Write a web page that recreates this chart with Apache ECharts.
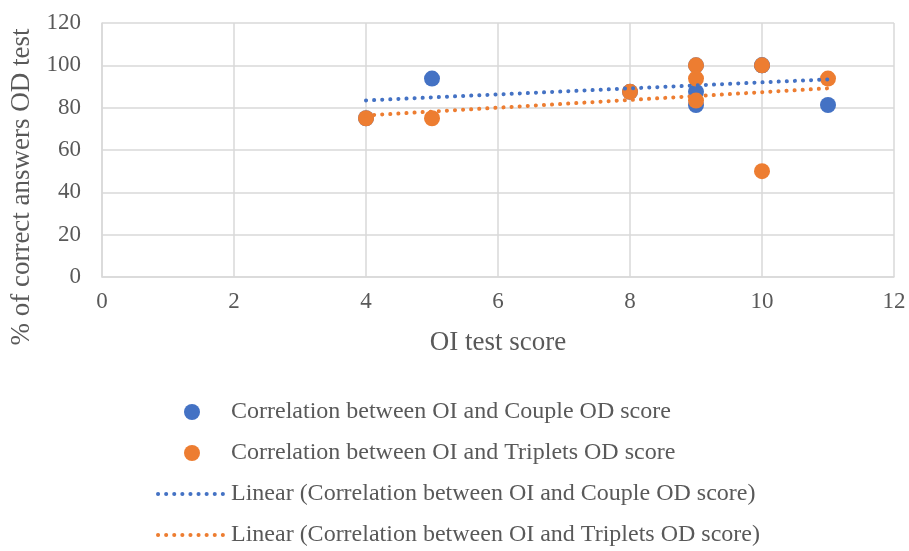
<!DOCTYPE html>
<html>
<head>
<meta charset="utf-8">
<script src="https://cdn.jsdelivr.net/npm/echarts@6/dist/echarts.min.js"></script>
<style>html,body{margin:0;padding:0;background:#fff}#c{width:909px;height:551px}</style>
</head>
<body>
<div id="c"></div>
<script>
var coupleX = [4, 5, 8, 9, 9, 9, 10, 10, 11];
var coupleY = [75, 93.75, 87.5, 87.5, 81.25, 100, 100, 100, 81.25];
var tripletsX = [4, 5, 8, 9, 9, 9, 10, 10, 11];
var tripletsY = [75, 75, 87.5, 100, 93.75, 83.33, 100, 50, 93.75];
var seriesNames = [
  'Correlation between OI and Couple OD score',
  'Correlation between OI and Triplets OD score',
  'Linear (Correlation between OI and Couple OD score)',
  'Linear (Correlation between OI and Triplets OD score)'
];
var xTicks = [0, 2, 4, 6, 8, 10, 12];
var yTicks = [0, 20, 40, 60, 80, 100, 120];

function pairs(xs, ys) { return xs.map(function (x, i) { return [x, ys[i]]; }); }
function trend(xs, ys) {
  var n = xs.length, mx = 0, my = 0;
  for (var i = 0; i < n; i++) { mx += xs[i]; my += ys[i]; }
  mx /= n; my /= n;
  var sxy = 0, sxx = 0;
  for (var j = 0; j < n; j++) { sxy += (xs[j] - mx) * (ys[j] - my); sxx += (xs[j] - mx) * (xs[j] - mx); }
  var b = sxy / sxx, a = my - b * mx;
  var lo = Math.min.apply(null, xs), hi = Math.max.apply(null, xs);
  return [[lo, a + b * lo], [hi, a + b * hi]];
}

var BLUE = '#4472C4', ORANGE = '#ED7D31';
var FONT = '"Liberation Serif", "Times New Roman", serif';
var chart = echarts.init(document.getElementById('c'), null, {renderer: 'canvas'});
var dotStyle = function (c) { return {color: c, width: 4, type: [0.1, 8], cap: 'round', opacity: 1}; };
chart.setOption({
  animation: false,
  textStyle: {fontFamily: FONT},
  grid: {left: 102, right: 15, top: 23, bottom: 274, outerBoundsMode: 'none', containLabel: false},
  xAxis: {
    type: 'value', min: xTicks[0], max: xTicks[xTicks.length - 1], interval: 2,
    name: 'OI test score', nameLocation: 'middle', nameGap: 52,
    nameTextStyle: {fontFamily: FONT, fontSize: 27, color: '#595959'},
    axisLine: {show: true, lineStyle: {color: '#d9d9d9', width: 1.5}},
    axisTick: {show: false},
    axisLabel: {fontFamily: FONT, fontSize: 23, color: '#595959', margin: 13},
    splitLine: {show: true, lineStyle: {color: '#d9d9d9', width: 1.5}}
  },
  yAxis: {
    type: 'value', min: yTicks[0], max: yTicks[yTicks.length - 1], interval: 20,
    name: '% of correct answers OD test', nameLocation: 'middle', nameGap: 62,
    nameTextStyle: {fontFamily: FONT, fontSize: 27, color: '#595959', padding: [0, 74, 0, 0]},
    axisLine: {show: true, lineStyle: {color: '#d9d9d9', width: 1.5}},
    axisTick: {show: false},
    axisLabel: {fontFamily: FONT, fontSize: 23, color: '#595959', margin: 21},
    splitLine: {show: true, lineStyle: {color: '#d9d9d9', width: 1.5}}
  },
  legend: {
    orient: 'vertical', left: 156, top: 400, itemGap: 17, padding: 0,
    itemWidth: 68, itemHeight: 16,
    textStyle: {fontFamily: FONT, fontSize: 24, color: '#595959'},
    data: [
      {name: seriesNames[0]},
      {name: seriesNames[1]},
      {name: seriesNames[2], itemStyle: {opacity: 0}, lineStyle: dotStyle(BLUE)},
      {name: seriesNames[3], itemStyle: {opacity: 0}, lineStyle: dotStyle(ORANGE)}
    ]
  },
  series: [
    {name: seriesNames[0], type: 'scatter', symbolSize: 16, itemStyle: {color: BLUE, opacity: 1}, data: pairs(coupleX, coupleY)},
    {name: seriesNames[1], type: 'scatter', symbolSize: 16, itemStyle: {color: ORANGE, opacity: 1}, data: pairs(tripletsX, tripletsY)},
    {name: seriesNames[2], type: 'line', symbol: 'none', itemStyle: {color: BLUE}, lineStyle: dotStyle(BLUE), data: trend(coupleX, coupleY)},
    {name: seriesNames[3], type: 'line', symbol: 'none', itemStyle: {color: ORANGE}, lineStyle: dotStyle(ORANGE), data: trend(tripletsX, tripletsY)}
  ]
});
</script>
</body>
</html>
